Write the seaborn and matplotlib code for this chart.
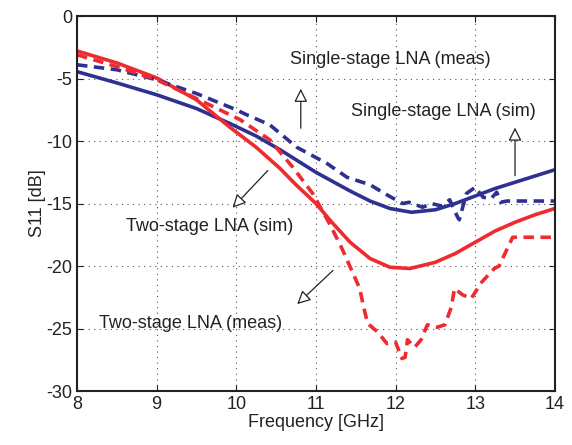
import matplotlib
matplotlib.use('Agg')
import matplotlib.pyplot as plt
import seaborn as sns

# two-stage LNA, simulated
f_two_sim = [8.0, 8.5, 9.0, 9.5, 9.92, 10.25, 10.55, 10.75, 11.0, 11.2, 11.43, 11.68, 11.93, 12.18,
             12.5, 12.75, 13.0, 13.25, 13.5, 13.75, 14.0]
s11_two_sim = [-2.8, -3.75, -4.95, -6.7, -8.9, -10.5, -12.2, -13.5, -15.0, -16.5, -18.1, -19.4, -20.1, -20.2,
               -19.7, -19.0, -18.1, -17.2, -16.5, -15.9, -15.4]

# single-stage LNA, simulated
f_one_sim = [8.0, 8.5, 9.0, 9.5, 9.92, 10.25, 10.55, 10.8, 11.0, 11.2, 11.43, 11.68, 11.93, 12.2,
             12.5, 12.75, 13.0, 13.25, 13.5, 13.75, 14.0]
s11_one_sim = [-4.45, -5.35, -6.3, -7.4, -8.6, -9.6, -10.7, -11.7, -12.5, -13.2, -14.0, -14.8, -15.4, -15.7,
               -15.5, -15.0, -14.4, -13.8, -13.3, -12.8, -12.3]

# two-stage LNA, measured
f_two_meas = [8.0, 8.5, 9.0, 9.5, 10.05, 10.42, 10.71, 10.96, 11.17, 11.32, 11.46, 11.55, 11.6, 11.65,
              11.78, 11.89, 12.0, 12.08, 12.12, 12.15, 12.24, 12.32, 12.4, 12.52, 12.62, 12.7, 12.74,
              12.84, 12.95, 13.08, 13.24, 13.3, 13.47, 14.0]
s11_two_meas = [-3.1, -4.05, -5.1, -6.6, -8.3, -9.9, -12.1, -14.2, -16.6, -18.5, -20.5, -21.8, -23.3, -24.6,
                -25.3, -26.2, -26.1, -27.4, -27.3, -25.9, -26.5, -25.9, -24.7, -24.9, -24.7, -23.3, -21.8,
                -22.3, -22.6, -21.3, -20.2, -20.0, -17.7, -17.7]

# single-stage LNA, measured
f_one_meas = [8.0, 8.5, 9.0, 9.5, 10.0, 10.13, 10.42, 10.76, 11.14, 11.39, 11.68, 11.89, 12.09,
              12.17, 12.34, 12.45, 12.58, 12.68, 12.78, 12.8, 12.89, 13.0, 13.1, 13.2, 13.27, 13.32,
              13.4, 14.0]
s11_one_meas = [-3.9, -4.3, -5.1, -6.2, -7.5, -7.9, -8.7, -10.5, -11.8, -12.9, -13.5, -14.3, -15.0,
                -14.9, -15.3, -15.0, -15.2, -14.7, -16.1, -16.3, -14.2, -13.7, -14.5, -14.6, -14.1, -14.9,
                -14.8, -14.8]

red = '#EE2B2E'
blue = '#2E3192'

sns.set_style('ticks')
plt.rcParams['font.family'] = ['Liberation Sans', 'DejaVu Sans']
plt.rcParams['axes.unicode_minus'] = False

fig = plt.figure(figsize=(5.72, 4.45), dpi=100)
ax = fig.add_axes([0.1346, 0.1213, 0.8354, 0.8427])

lw = 2.6
dash = (0, (2.9, 1.8))
sns.lineplot(x=f_one_sim, y=s11_one_sim, color=blue, lw=lw, ax=ax)
sns.lineplot(x=f_two_sim, y=s11_two_sim, color=red, lw=lw, ax=ax)
sns.lineplot(x=f_one_meas, y=s11_one_meas, color=blue, lw=lw, ax=ax, linestyle=dash)
sns.lineplot(x=f_two_meas, y=s11_two_meas, color=red, lw=lw, ax=ax, linestyle=dash)

ax.set_xlim(8, 14)
ax.set_ylim(-30, 0)
ax.set_xticks(range(8, 15))
ax.set_yticks(range(-30, 1, 5))
ax.grid(True, linestyle=(0, (1, 4)), color='#555555', linewidth=0.8)
ax.tick_params(direction='in', labelsize=13, top=True, right=True, length=4, colors='#222222')
for s in ax.spines.values():
    s.set_linewidth(1.5)
    s.set_color('#222222')

ax.set_xlabel('Frequency [GHz]', fontsize=13, labelpad=1, color='#222222')
ax.set_ylabel('S11 [dB]', fontsize=13, labelpad=0, color='#222222')

arrow = dict(arrowstyle='-|>', fc='white', ec='#222222', lw=0.9, mutation_scale=20)
tkw = dict(fontsize=13, color='#222222', ha='center', va='center')
ax.annotate('', xy=(10.81, -5.6), xytext=(10.81, -9.2), arrowprops=arrow)
ax.text(11.93, -3.5, 'Single-stage LNA (meas)', **tkw)
ax.annotate('', xy=(13.5, -8.7), xytext=(13.5, -13.0), arrowprops=arrow)
ax.text(12.6, -7.6, 'Single-stage LNA (sim)', **tkw)
ax.annotate('', xy=(9.93, -15.5), xytext=(10.42, -12.2), arrowprops=arrow)
ax.text(9.67, -16.8, 'Two-stage LNA (sim)', **tkw)
ax.annotate('', xy=(10.74, -23.2), xytext=(11.24, -20.2), arrowprops=arrow)
ax.text(9.42, -24.6, 'Two-stage LNA (meas)', **tkw)

fig.savefig('out.png', dpi=100)
